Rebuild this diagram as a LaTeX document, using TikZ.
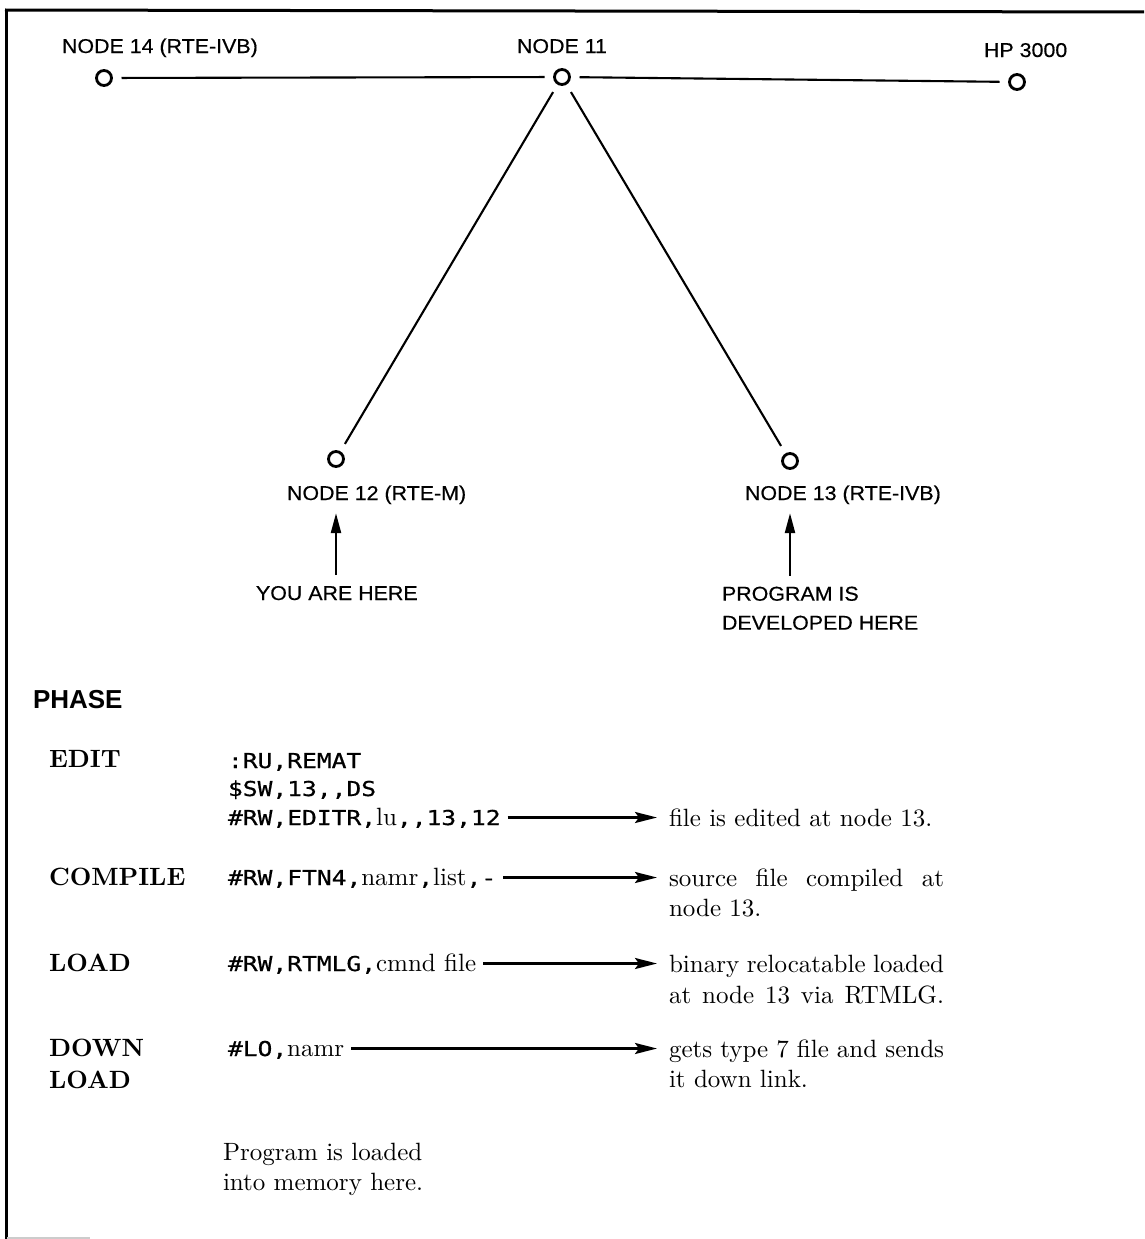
\documentclass[tikz,border=0pt]{standalone}
\usepackage{fontspec}
\usetikzlibrary{arrows.meta}
% text-size design of Latin Modern at every size
\setmainfont[Extension=.otf, BoldFont=lmroman10-bold, ItalicFont=lmroman10-italic]{lmroman10-regular}
\newfontfamily\labelfont[FakeStretch=1.07, FakeBold=0.4]{Liberation Sans}
\newfontfamily\headfont{Liberation Sans}
\newfontfamily\cmdfont[FakeStretch=1.2, FakeBold=0.7]{DejaVu Sans Mono}
% terminal-style keyword text inside a command line
\newcommand\kw[1]{{\cmdfont\fontsize{20.5}{29}\selectfont #1}}
% a justified line of fixed width
\newcommand\jline[1]{\hbox to 275pt{#1}}
\begin{document}
\begin{tikzpicture}[x=1pt,y=-1pt,
  every node/.style={inner sep=0pt, outer sep=0pt},
  lbl/.style={font=\labelfont\fontsize{20}{29}\selectfont},
  phase/.style={font=\fontsize{25}{32}\selectfont\bfseries, align=left},
  cmd/.style={font=\fontsize{25}{29}\selectfont, anchor=base west},
  desc/.style={font=\fontsize{25}{30.5}\selectfont, anchor=north west, align=left},
  site/.style={circle, draw, line width=2.8pt, minimum size=15pt},
  link/.style={line width=2.1pt, shorten <=10pt, shorten >=10pt},
  pointer/.style={line width=2.3pt, -{Triangle[length=20pt,width=10pt]},
                  shorten <=11pt, shorten >=9pt},
  flow/.style={line width=2.5pt, -{Stealth[length=22pt,width=11pt,inset=4pt]},
               shorten <=7pt, shorten >=12pt}
]
\useasboundingbox (0,0) rectangle (1144,1239);

% page frame
\draw[line width=3pt] (5,10) -- (1144,12);
\draw[line width=3pt] (6,10) -- (6,1239);
\draw[line width=1.5pt, black!20] (7,1238) -- (90,1238);

% network sites
\node[site] (n14) at (104,78) {};
\node[site] (n11) at (562,77) {};
\node[site] (hp)  at (1017,82) {};
\node[site] (n12) at (336,459) {};
\node[site] (n13) at (790,461) {};

\node[lbl, anchor=base west] (l14) at (62,53) {NODE 14 (RTE-IVB)};
\node[lbl, anchor=base west] (l11) at (517,53) {NODE 11};
\node[lbl, anchor=base west] (lhp) at (984,57) {HP 3000};
\node[lbl, anchor=base west] (l12) at (287,500) {NODE 12 (RTE-M)};
\node[lbl, anchor=base west] (l13) at (745,500) {NODE 13 (RTE-IVB)};

% links
\draw[link] (n14) -- (n11);
\draw[link] (n11) -- (hp);
\draw[link] (n11) -- (n12);
\draw[link] (n11) -- (n13);

% pointers
\node[lbl, anchor=base west] (you) at (256,600) {YOU ARE HERE};
\node[lbl, anchor=north west, align=left] (prog) at (722,586.7)
  {PROGRAM IS\\DEVELOPED HERE};
\draw[pointer] (you.north -| n12) -- (n12 |- l12.south);
\draw[pointer] (prog.north -| n13) -- (n13 |- l13.south);

% phase table
\node[anchor=base west, font=\headfont\bfseries\fontsize{26}{30}\selectfont]
  (phase) at (33,708) {PHASE};

\node[phase, anchor=base west] (pedit) at (49,767) {EDIT};
\node[phase, anchor=base west] (pcomp) at (49,885) {COMPILE};
\node[phase, anchor=base west] (pload) at (49,971) {LOAD};
\node[phase, anchor=north west] (pdown) at (49,1039) {DOWN\\LOAD};

\node[cmd] (c1) at (228,768) {\kw{:RU,REMAT}};
\node[cmd] (c2) at (228,796) {\kw{\$SW,13,,DS}};
\node[cmd] (c3) at (228,825) {\kw{\#RW,EDITR,}lu\kw{,,13,12}};
\node[cmd] (c4) at (228,885) {\kw{\#RW,FTN4,}namr\kw{,}list\kw{,-}};
\node[cmd] (c5) at (228,971) {\kw{\#RW,RTMLG,}cmnd file};
\node[cmd] (c6) at (228,1056) {\kw{\#LO,}namr};

\node[desc] (d1) at (669,808.6) {file is edited at node 13.};
\node[desc] (d2) at (669,868.6) {\jline{source file compiled at}\\node 13.};
\node[desc] (d3) at (669,955.6) {\jline{binary relocatable loaded}\\\jline{at node 13 via RTMLG.}};
\node[desc] (d4) at (669,1039.6) {\jline{gets type 7 file and sends}\\it down link.};

\draw[flow] ([yshift=7.5pt]c3.base east) -- ([yshift=7.5pt]c3.base east -| d1.west);
\draw[flow] ([yshift=7.5pt]c4.base east) -- ([yshift=7.5pt]c4.base east -| d2.west);
\draw[flow] ([yshift=7.5pt]c5.base east) -- ([yshift=7.5pt]c5.base east -| d3.west);
\draw[flow] ([yshift=7.5pt]c6.base east) -- ([yshift=7.5pt]c6.base east -| d4.west);

\node[anchor=north west, align=left, font=\fontsize{25}{30}\selectfont]
  (mem) at (223,1143.6) {Program is loaded\\into memory here.};
\end{tikzpicture}
\end{document}
